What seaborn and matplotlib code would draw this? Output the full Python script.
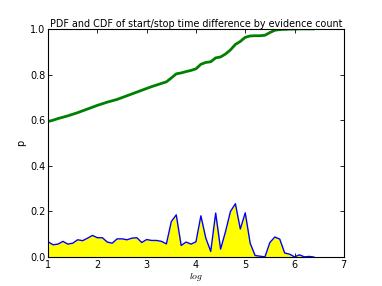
import numpy as np
import pandas as pd
import matplotlib
matplotlib.use("Agg")
import matplotlib.pyplot as plt
import seaborn as sns

# log values, step 0.1 from 1.0 to 6.4
log_x = [round(1.0 + 0.1 * i, 1) for i in range(55)]

pdf = [0.067, 0.054, 0.057, 0.069, 0.057, 0.061, 0.076, 0.072, 0.083, 0.095,
       0.085, 0.085, 0.066, 0.061, 0.080, 0.080, 0.076, 0.083, 0.085, 0.064,
       0.077, 0.073, 0.073, 0.069, 0.058, 0.156, 0.185, 0.051, 0.066, 0.057,
       0.067, 0.181, 0.083, 0.025, 0.193, 0.035, 0.112, 0.200, 0.234, 0.123,
       0.194, 0.061, 0.007, 0.004, 0.001, 0.064, 0.088, 0.079, 0.018, 0.013,
       0.001, 0.010, 0.001, 0.003, 0.000]

cdf = [0.594, 0.600, 0.607, 0.613, 0.619, 0.626, 0.633, 0.641, 0.649, 0.657,
       0.665, 0.672, 0.679, 0.685, 0.691, 0.699, 0.707, 0.715, 0.723, 0.731,
       0.739, 0.747, 0.754, 0.761, 0.768, 0.785, 0.803, 0.807, 0.813, 0.818,
       0.825, 0.845, 0.853, 0.856, 0.873, 0.877, 0.890, 0.908, 0.932, 0.945,
       0.963, 0.969, 0.970, 0.970, 0.972, 0.984, 0.994, 0.997, 0.998, 0.999,
       0.999, 1.000, 1.000, 1.000, 1.000]

df = pd.DataFrame({"log": log_x, "pdf": pdf, "cdf": cdf})

sns.set_style("ticks", {"axes.edgecolor": "black", "text.color": "black",
                        "xtick.color": "black", "ytick.color": "black",
                        "axes.labelcolor": "black"})
plt.rcParams["font.family"] = ["DejaVu Sans"]
plt.rcParams["mathtext.fontset"] = "cm"

fig, ax = plt.subplots(figsize=(3.82, 2.86), dpi=100)
fig.subplots_adjust(left=0.126, right=0.9, bottom=0.101, top=0.899)

ax.fill_between(df["log"], 0, df["pdf"], color="yellow", linewidth=0)
sns.lineplot(data=df, x="log", y="pdf", color="blue", linewidth=1.0, ax=ax)
sns.lineplot(data=df, x="log", y="cdf", color="green", linewidth=2.0, ax=ax)

ax.set_xlim(1, 7)
ax.set_ylim(0, 1.0)
ax.set_xticks([1, 2, 3, 4, 5, 6, 7])
ax.set_yticks([0.0, 0.2, 0.4, 0.6, 0.8, 1.0])
ax.set_yticklabels(["0.0", "0.2", "0.4", "0.6", "0.8", "1.0"])
ax.tick_params(direction="in", top=True, right=True, labelsize=7, length=3, width=0.6, pad=2)
for s in ax.spines.values():
    s.set_linewidth(0.8)

ax.set_title("PDF and CDF of start/stop time difference by evidence count", fontsize=6.9, pad=1)
ax.set_xlabel("$log$", fontsize=7, labelpad=1)
ax.set_ylabel("p", fontsize=7, labelpad=3)

fig.savefig("out.png", dpi=100)
